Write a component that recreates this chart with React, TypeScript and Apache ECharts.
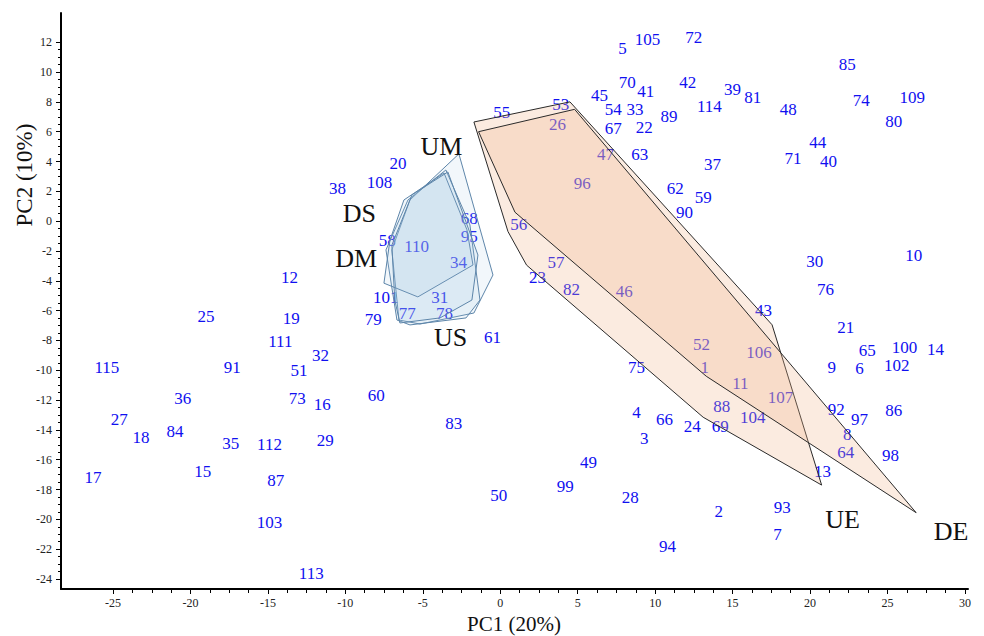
import React, { useEffect, useRef } from "react";
import * as echarts from "echarts";

// Sample identifiers 1..115
const sampleIds: string[] = [
  "1","2","3","4","5","6","7","8","9","10","11","12","13","14","15","16","17","18","19","20",
  "21","22","23","24","25","26","27","28","29","30","31","32","33","34","35","36","37","38","39","40",
  "41","42","43","44","45","46","47","48","49","50","51","52","53","54","55","56","57","58","59","60",
  "61","62","63","64","65","66","67","68","69","70","71","72","73","74","75","76","77","78","79","80",
  "81","82","83","84","85","86","87","88","89","90","91","92","93","94","95","96","97","98","99","100",
  "101","102","103","104","105","106","107","108","109","110","111","112","113","114","115",
];

const pc1: number[] = [
  13.2, 14.1, 9.3, 8.8, 7.9, 23.2, 17.9, 22.4, 21.4, 26.7,
  15.5, -13.6, 20.8, 28.1, -19.2, -11.5, -26.3, -23.2, -13.5, -6.6,
  22.3, 9.3, 2.4, 12.4, -19.0, 3.7, -24.6, 8.4, -11.3, 20.3,
  -3.9, -11.6, 8.7, -2.7, -17.4, -20.5, 13.7, -10.5, 15.0, 21.2,
  9.4, 12.1, 17.0, 20.5, 6.4, 8.0, 6.8, 18.6, 5.7, -0.1,
  -13.0, 13.0, 3.9, 7.3, 0.1, 1.2, 3.6, -7.3, 13.1, -8.0,
  -0.5, 11.3, 9.0, 22.3, 23.7, 10.6, 7.3, -2.0, 14.2, 8.2,
  18.9, 12.5, -13.1, 23.3, 8.8, 21.0, -6.0, -3.6, -8.2, 25.4,
  16.3, 4.6, -3.0, -21.0, 22.4, 25.4, -14.5, 14.3, 10.9, 11.9,
  -17.3, 21.7, 18.2, 10.8, -2.0, 5.3, 23.2, 25.2, 4.2, 26.1,
  -7.4, 25.6, -14.9, 16.3, 9.5, 16.7, 18.1, -7.8, 26.6, -5.4,
  -14.2, -14.9, -12.2, 13.5, -25.4,
];

const pc2: number[] = [
  -9.8, -19.5, -14.6, -12.8, 11.6, -9.9, -21.0, -14.3, -9.8, -2.3,
  -10.9, -3.8, -16.8, -8.6, -16.8, -12.3, -17.2, -14.5, -6.5, 3.9,
  -7.1, 6.3, -3.8, -13.8, -6.4, 6.5, -13.3, -18.5, -14.7, -2.7,
  -5.1, -9.0, 7.5, -2.8, -14.9, -11.9, 3.8, 2.2, 8.8, 4.0,
  8.7, 9.3, -6.0, 5.3, 8.4, -4.7, 4.5, 7.5, -16.2, -18.4,
  -10.0, -8.3, 7.8, 7.5, 7.3, -0.2, -2.8, -1.3, 1.6, -11.7,
  -7.8, 2.2, 4.5, -15.5, -8.7, -13.3, 6.2, 0.2, -13.8, 9.3,
  4.2, 12.3, -11.9, 8.1, -9.8, -4.6, -6.2, -6.2, -6.6, 6.7,
  8.3, -4.6, -13.6, -14.1, 10.5, -12.7, -17.4, -12.4, 7.0, 0.6,
  -9.8, -12.6, -19.2, -21.8, -1.0, 2.5, -13.3, -15.7, -17.8, -8.5,
  -5.1, -9.7, -20.2, -13.2, 12.2, -8.8, -11.8, 2.6, 8.3, -1.7,
  -8.1, -15.0, -23.6, 7.7, -9.8,
];

// Group labels
const groupNames: string[] = ["UM", "DS", "DM", "US", "UE", "DE"];
const groupX: number[] = [-3.8, -9.1, -9.3, -3.2, 22.1, 29.1];
const groupY: number[] = [5.0, 0.5, -2.5, -7.8, -20.0, -20.8];

// Hull vertices (PC1, PC2)
const hullUE: number[][] = [[-1.7, 6.65], [4.5, 8.0], [17.55, -6.95], [20.75, -17.7], [13.1, -13.15], [1.7, -2.95], [0.5, -0.7]];
const hullDE: number[][] = [[-1.4, 6.0], [4.8, 7.5], [26.85, -19.55], [13.3, -10.4], [0.95, 0.6]];
const hullUM: number[][] = [[-2.67, 4.51], [-0.47, -3.61], [-1.7, -6.16], [-5.18, -6.9], [-6.54, -6.63], [-7.0, -1.93], [-5.83, 1.42]];
const hullDS: number[][] = [[-3.51, 3.43], [-1.96, -0.25], [-1.31, -5.29], [-2.21, -6.49], [-5.83, -6.96], [-6.67, -6.63], [-7.38, -1.93], [-5.96, 1.42]];
const hullDM: number[][] = [[-3.63, 3.23], [-2.15, -0.58], [-1.76, -2.94], [-5.32, -5.08], [-7.51, -4.16], [-7.12, -1.27], [-6.22, 1.42]];
const hullUS: number[][] = [[-3.38, 3.3], [-1.44, -2.27], [-1.83, -5.29], [-3.89, -6.49], [-6.48, -6.83], [-6.81, -5.29], [-7.0, -1.61], [-5.7, 1.76]];

// Axis ticks and titles
const xTickValues: number[] = [-25, -20, -15, -10, -5, 0, 5, 10, 15, 20, 25, 30];
const yTickValues: number[] = [-24, -22, -20, -18, -16, -14, -12, -10, -8, -6, -4, -2, 0, 2, 4, 6, 8, 10, 12];
const xTitle = "PC1 (20%)";
const yTitle = "PC2 (10%)";

const X_MIN = -28.36;
const X_MAX = 30.2;
const Y_MIN = -24.67;
const Y_MAX = 13.96;

function minorTicks(major: number[], parts: number): number[] {
  const out: number[] = [];
  for (let i = 0; i < major.length - 1; i++) {
    const step = (major[i + 1] - major[i]) / parts;
    for (let k = 0; k < parts; k++) out.push(major[i] + k * step);
  }
  out.push(major[major.length - 1]);
  return out;
}

const SERIF = "'Liberation Serif', 'Times New Roman', serif";
const LABEL_BLUE = "#1010f0";

function hullSeries(name: string, pts: number[][], fill: string, stroke: string, z: number) {
  return {
    type: "custom",
    name,
    z,
    silent: true,
    coordinateSystem: "cartesian2d",
    xAxisIndex: 0,
    yAxisIndex: 0,
    data: [pts[0]],
    renderItem: (_params: any, api: any) => ({
      type: "polygon",
      shape: { points: pts.map((p) => api.coord(p)) },
      style: { fill, stroke, lineWidth: 1 },
    }),
  };
}

export default function App() {
  const ref = useRef<HTMLDivElement>(null);

  useEffect(() => {
    document.body.style.margin = "0";
    if (!ref.current) return;
    const chart = echarts.init(ref.current, undefined, { renderer: "svg" });

    const blueFill = "rgba(160,195,228,0.14)";
    const blueStroke = "#5e86aa";
    const orangeFill = "rgba(242,180,140,0.27)";
    const orangeStroke = "#2a2a2a";

    const option: any = {
      animation: false,
      backgroundColor: "#ffffff",
      grid: { left: 61, right: 16, top: 13, bottom: 47, outerBoundsMode: "none" },
      xAxis: [
        {
          type: "value",
          min: X_MIN,
          max: X_MAX,
          position: "bottom",
          axisLine: { show: true, onZero: false, lineStyle: { color: "#000", width: 2 } },
          axisTick: { show: true, customValues: xTickValues, length: 5, lineStyle: { color: "#000" } },
          axisLabel: { customValues: xTickValues, fontFamily: SERIF, fontSize: 12, color: "#222", margin: 8 },
          splitLine: { show: false },
        },
        {
          type: "value",
          min: X_MIN,
          max: X_MAX,
          position: "bottom",
          axisLine: { show: false, onZero: false },
          axisTick: { show: true, customValues: minorTicks(xTickValues, 4), length: 4, lineStyle: { color: "#000" } },
          axisLabel: { show: false },
          splitLine: { show: false },
        },
      ],
      yAxis: [
        {
          type: "value",
          min: Y_MIN,
          max: Y_MAX,
          position: "left",
          axisLine: { show: true, onZero: false, lineStyle: { color: "#000", width: 2 } },
          axisTick: { show: true, customValues: yTickValues, length: 5, lineStyle: { color: "#000" } },
          axisLabel: { customValues: yTickValues, fontFamily: SERIF, fontSize: 12, color: "#222", margin: 9 },
          splitLine: { show: false },
        },
        {
          type: "value",
          min: Y_MIN,
          max: Y_MAX,
          position: "left",
          axisLine: { show: false, onZero: false },
          axisTick: { show: true, customValues: minorTicks(yTickValues, 4), length: 3, lineStyle: { color: "#000" } },
          axisLabel: { show: false },
          splitLine: { show: false },
        },
      ],
      graphic: [
        {
          type: "text",
          x: 24,
          y: 175,
          rotation: Math.PI / 2,
          style: {
            text: yTitle,
            font: `23px ${SERIF}`,
            fill: "#111",
            align: "center",
            verticalAlign: "middle",
          },
        },
        {
          type: "text",
          x: 514,
          y: 624,
          style: {
            text: xTitle,
            font: `21px ${SERIF}`,
            fill: "#111",
            align: "center",
            verticalAlign: "middle",
          },
        },
      ],
      series: [
        {
          type: "scatter",
          name: "samples",
          z: 2,
          xAxisIndex: 0,
          yAxisIndex: 0,
          symbolSize: 0,
          itemStyle: { color: LABEL_BLUE, opacity: 1 },
          data: pc1.map((x, i) => [x, pc2[i], sampleIds[i]]),
          label: {
            show: true,
            position: "inside",
            formatter: (p: any) => p.value[2],
            fontFamily: SERIF,
            fontSize: 17,
            color: LABEL_BLUE,
            opacity: 1,
            textBorderWidth: 0,
          },
          silent: true,
        },
        hullSeries("UE", hullUE, orangeFill, orangeStroke, 4),
        hullSeries("DE", hullDE, orangeFill, orangeStroke, 4),
        hullSeries("UM", hullUM, blueFill, blueStroke, 4),
        hullSeries("DS", hullDS, blueFill, blueStroke, 4),
        hullSeries("DM", hullDM, blueFill, blueStroke, 4),
        hullSeries("US", hullUS, blueFill, blueStroke, 4),
        {
          type: "scatter",
          name: "groups",
          z: 6,
          xAxisIndex: 0,
          yAxisIndex: 0,
          symbolSize: 0,
          itemStyle: { color: "#111", opacity: 1 },
          data: groupNames.map((g, i) => [groupX[i], groupY[i], g]),
          label: {
            show: true,
            position: "inside",
            formatter: (p: any) => p.value[2],
            fontFamily: SERIF,
            fontSize: 26,
            color: "#111",
            opacity: 1,
            textBorderWidth: 0,
          },
          silent: true,
        },
      ],
    };

    chart.setOption(option);
    return () => chart.dispose();
  }, []);

  return <div ref={ref} style={{ width: 984, height: 636 }} />;
}
